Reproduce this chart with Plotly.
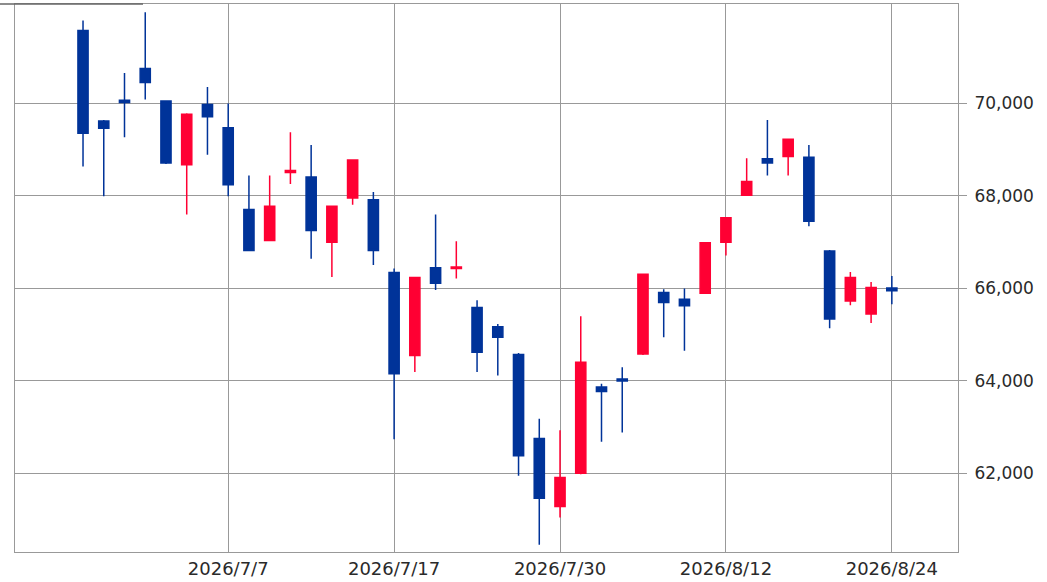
import plotly.graph_objects as go

dates = [
    "2026/6/26", "2026/6/29", "2026/6/30", "2026/7/1", "2026/7/2", "2026/7/3",
    "2026/7/6", "2026/7/7", "2026/7/8", "2026/7/9", "2026/7/10", "2026/7/13",
    "2026/7/14", "2026/7/15", "2026/7/16", "2026/7/17", "2026/7/21", "2026/7/22",
    "2026/7/23", "2026/7/24", "2026/7/27", "2026/7/28", "2026/7/29", "2026/7/30",
    "2026/7/31", "2026/8/3", "2026/8/4", "2026/8/5", "2026/8/6", "2026/8/7",
    "2026/8/10", "2026/8/12", "2026/8/13", "2026/8/14", "2026/8/17", "2026/8/18",
    "2026/8/19", "2026/8/20", "2026/8/21", "2026/8/24",
]
opens = [
    71578, 69619, 70070, 70754, 70050, 68672, 69978, 69475, 67703, 67035,
    68506, 68407, 66999, 67955, 67918, 66340, 64544, 66447, 66426, 65586,
    65169, 64566, 62751, 61280, 61997, 63864, 64036, 64581, 65909, 65765,
    65894, 66999, 68011, 68801, 68850, 68837, 66805, 65728, 65442, 66008,
]
highs = [
    71793, 69640, 70659, 71972, 70070, 69785, 70357, 70000, 68441, 68441,
    69376, 69102, 67790, 68790, 68084, 66430, 66250, 67595, 67020, 65744,
    65227, 64600, 63181, 62930, 65393, 63935, 64294, 66320, 65980, 65995,
    67000, 67540, 68816, 69640, 69240, 69102, 66830, 66353, 66137, 66267,
]
lows = [
    68635, 67989, 69268, 70086, 68690, 67595, 68887, 67989, 66800, 67020,
    68256, 66641, 66245, 67810, 66504, 62736, 64187, 65965, 66211, 64187,
    64114, 61948, 60454, 61043, 61980, 62680, 62880, 64560, 64940, 64652,
    65880, 66712, 68000, 68441, 68441, 67343, 65134, 65636, 65248, 65657,
]
closes = [
    69354, 69462, 70020, 70452, 68708, 69763, 69712, 68241, 66820, 67774,
    68549, 67251, 67774, 68773, 66820, 64150, 66232, 66110, 66460, 64618,
    64940, 62378, 61459, 61905, 64402, 63769, 63993, 66303, 65694, 65621,
    66986, 67524, 68312, 68708, 69225, 67451, 65334, 66232, 66017, 65949,
]
tick_dates = ["2026/7/7", "2026/7/17", "2026/7/30", "2026/8/12", "2026/8/24"]
y_ticks = [62000, 64000, 66000, 68000, 70000]

RED = "#ff0033"
BLUE = "#003399"
GRID = "#999999"

fig = go.Figure(go.Candlestick(
    x=dates, open=opens, high=highs, low=lows, close=closes,
    increasing=dict(line=dict(color=RED, width=1.5), fillcolor=RED),
    decreasing=dict(line=dict(color=BLUE, width=1.5), fillcolor=BLUE),
    whiskerwidth=0,
    hoverinfo="x+y",
))

fig.update_layout(
    width=1047, height=582,
    margin=dict(l=15, r=89, t=3, b=28),
    paper_bgcolor="white", plot_bgcolor="white",
    showlegend=False,
    boxgap=0.3,
    font=dict(family="DejaVu Sans", size=16, color="#2a2a2a"),
    xaxis=dict(
        type="category",
        range=[-3.28, 42.19],
        tickvals=tick_dates, ticktext=tick_dates,
        tickfont=dict(size=18),
        showgrid=True, gridcolor=GRID, gridwidth=1,
        showline=True, linecolor=GRID, mirror=True,
        ticks="", rangeslider=dict(visible=False),
        fixedrange=True,
    ),
    yaxis=dict(
        side="right",
        range=[60296, 72150],
        tickvals=y_ticks, tickformat=",",
        tickfont=dict(size=17),
        ticklabelstandoff=4,
        showgrid=True, gridcolor=GRID, gridwidth=1,
        showline=True, linecolor=GRID, mirror=True,
        ticks="outside", ticklen=8, tickcolor=GRID,
        zeroline=False, fixedrange=True,
    ),
    shapes=[dict(
        type="line", xref="paper", yref="paper",
        x0=-15 / 943, x1=128 / 943, y0=1, y1=1,
        line=dict(color="#666666", width=1.5),
    )],
)

fig.write_html("out.html", config={"displayModeBar": False},
               post_script="document.body.style.margin='0';")
